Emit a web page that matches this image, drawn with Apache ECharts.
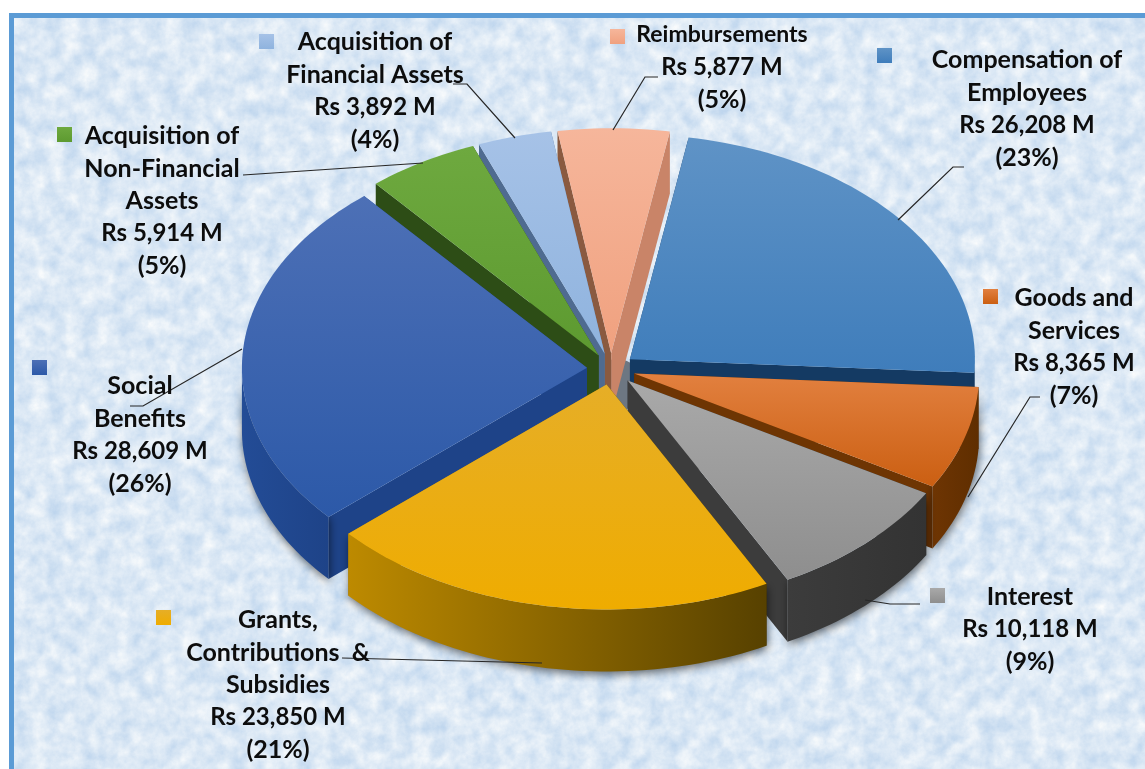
<!DOCTYPE html>
<html>
<head>
<meta charset="utf-8">
<style>
  html, body { margin: 0; padding: 0; background: #fff; }
  #panel {
    position: absolute; left: 9px; top: 13px; width: 1136px; height: 756px;
    box-sizing: border-box; border-top: 5px solid #5b9bd5; border-left: 5px solid #5b9bd5;
    background-color: #dbe9f7;
    background-image: url("data:image/svg+xml,%3Csvg xmlns='http://www.w3.org/2000/svg' width='1145' height='769'%3E%3Cfilter id='n' color-interpolation-filters='sRGB'%3E%3CfeTurbulence type='fractalNoise' baseFrequency='0.06' numOctaves='6' seed='4'/%3E%3CfeColorMatrix values='0.28 0 0 0 0.72 0.18 0 0 0 0.82 0.07 0 0 0 0.925 0 0 0 0 1'/%3E%3C/filter%3E%3Crect width='100%25' height='100%25' filter='url(%23n)'/%3E%3C/svg%3E");
  }
  #chart { position: absolute; left: 0; top: 0; width: 1145px; height: 769px; }
</style>
</head>
<body>
<div id="panel"></div>
<div id="chart"></div>
<script src="https://cdn.jsdelivr.net/npm/echarts@6/dist/echarts.min.js"></script>
<script>
const categories = ['Compensation of\nEmployees', 'Goods and\nServices', 'Interest',
  'Grants,\nContributions  &\nSubsidies', 'Social\nBenefits', 'Acquisition of\nNon-Financial\nAssets',
  'Acquisition of\nFinancial Assets', 'Reimbursements']
const values = [26208, 8365, 10118, 23850, 28609, 5914, 3892, 5877]
const percents = [23, 7, 9, 21, 26, 5, 4, 5]

// colours: top of slice (light, dark), side wall (light, dark)
const topLight = ['#5f93c6', '#e2803f', '#a9a9a9', '#e6ae27', '#4d70b6', '#6ea93f', '#a6c2e7', '#f6b69b']
const topDark = ['#3f7dbb', '#cb5f12', '#8e8e8e', '#efac00', '#2c59a8', '#5d9a30', '#8fb3de', '#f0a17f']
const wallLight = ['#143a63', '#6e3503', '#3c3c3c', '#bd8a00', '#234c96', '#2d4d16', '#5d7ba3', '#c98468']
const wallDark = ['#143a63', '#5f2e00', '#333333', '#574100', '#1e4388', '#2d4d16', '#4f6b90', '#8a5a40']

// pie geometry, screen pixels
const cx = 611
const cy = 369
const rx = 345
const ry = 225
const depth = 62
const explode = 0.07
const startAngle = 9.8
// back slices first so the front ones overlap their walls
const paintOrder = [7, 6, 5, 0, 4, 1, 2, 3]

// label layout: text centre x, first line y, marker x/y, leader line
const labelX = [1027, 1074, 1030, 278, 140, 162, 375, 722]
const labelY = [60, 298, 597, 620, 386, 136, 42, 35]
const markerX = [877, 983, 930, 156, 32, 57, 259, 610]
const markerY = [48, 289, 588, 610, 360, 127, 34, 29]
const leaders = [
  [[964, 167], [953, 167], [898, 220]],
  [[1040, 397], [1030, 397], [968, 497]],
  [[920, 604], [890, 604], [865, 600]],
  [[342, 658], [542, 663]],
  [[130, 406], [143, 406], [242, 349]],
  [[243, 175], [423, 163]],
  [[453, 84], [467, 84], [515, 138]],
  [[658, 77], [645, 77], [613, 130]]
]

const total = values.reduce((a, b) => a + b, 0)
const slices = []
let acc = startAngle
values.forEach(function (v) {
  const span = v / total * 360
  slices.push({ a0: acc, a1: acc + span })
  acc += span
})

function rad(a) { return a * Math.PI / 180 }
function vGrad(c0, c1) {
  return new echarts.graphic.LinearGradient(0, 0, 0, 1, [{ offset: 0, color: c0 }, { offset: 1, color: c1 }])
}
function hGrad(c0, c1) {
  return new echarts.graphic.LinearGradient(0, 0, 1, 0, [{ offset: 0, color: c0 }, { offset: 1, color: c1 }])
}
// how far an edge is from pointing straight at the viewer
function backness(a) { return Math.abs((a % 360) - 180) }

function renderSlice(params, api) {
  const i = api.value(0)
  const a0 = slices[i].a0
  const a1 = slices[i].a1
  const mid = rad((a0 + a1) / 2)
  const ox = cx + explode * rx * Math.sin(mid)
  const oy = cy - explode * ry * Math.cos(mid)
  function pt(a, dy) {
    return [ox + rx * Math.sin(rad(a)), oy - ry * Math.cos(rad(a)) + (dy || 0)]
  }
  const arc = []
  for (let a = a0; a < a1; a += 1.5) arc.push(pt(a))
  arc.push(pt(a1))
  const children = []
  // fills the small hole the exploded tips leave in the middle
  if (params.dataIndex === 0) {
    children.push({
      type: 'circle',
      shape: { cx: cx + 6, cy: cy + 16, r: 26 },
      style: { fill: '#6d7782' }
    })
  }
  // radial walls, the one nearer the viewer goes on top
  const edges = backness(a0) > backness(a1) ? [a0, a1] : [a1, a0]
  edges.forEach(function (a) {
    children.push({
      type: 'polygon',
      shape: { points: [[ox, oy], pt(a), pt(a, depth), [ox, oy + depth]] },
      style: { fill: a === a0 ? wallDark[i] : wallLight[i] }
    })
  })
  // outer rim, only the part that faces the viewer
  const from = Math.max(a0, 90)
  const to = Math.min(a1, 270)
  if (to > from) {
    const rimTop = []
    const rimBottom = []
    for (let a = from; a < to; a += 1.5) {
      rimTop.push(pt(a))
      rimBottom.unshift(pt(a, depth))
    }
    rimTop.push(pt(to))
    rimBottom.unshift(pt(to, depth))
    children.push({
      type: 'polygon',
      shape: { points: rimTop.concat(rimBottom) },
      style: {
        fill: hGrad(wallLight[i], wallDark[i]),
        shadowBlur: 9,
        shadowColor: 'rgba(0,0,0,0.55)',
        shadowOffsetX: 1,
        shadowOffsetY: 3
      }
    })
  }
  children.push({
    type: 'polygon',
    shape: { points: [[ox, oy]].concat(arc) },
    style: { fill: vGrad(topLight[i], topDark[i]) }
  })
  return { type: 'group', children: children }
}

function renderLabel(params, api) {
  const i = api.value(0)
  const lines = categories[i].split('\n')
  lines.push('Rs ' + values[i].toLocaleString('en-US') + ' M')
  lines.push('(' + percents[i] + '%)')
  const children = [{
    type: 'rect',
    shape: { x: markerX[i], y: markerY[i], width: 15, height: 15 },
    style: { fill: vGrad(topLight[i], topDark[i]) }
  }, {
    type: 'polyline',
    shape: { points: leaders[i] },
    style: { stroke: '#262626', lineWidth: 1.2, fill: null }
  }]
  lines.forEach(function (text, k) {
    let size = 25
    if (text === 'Reimbursements') size = 23
    if (text.indexOf('Rs ') === 0) size = 24
    children.push({
      type: 'text',
      x: labelX[i],
      y: labelY[i] + k * 32.5,
      style: {
        text: text,
        fontFamily: 'Lato',
        fontWeight: 'bold',
        fontSize: size,
        fill: '#0d0d0d',
        align: 'center',
        verticalAlign: 'middle'
      }
    })
  })
  return { type: 'group', children: children }
}

const chart = echarts.init(document.getElementById('chart'))
chart.setOption({
  animation: false,
  series: [{
    type: 'custom',
    coordinateSystem: 'none',
    silent: true,
    data: paintOrder.map(i => [i]),
    renderItem: renderSlice
  }, {
    type: 'custom',
    coordinateSystem: 'none',
    silent: true,
    z: 5,
    data: categories.map((c, i) => [i]),
    renderItem: renderLabel
  }]
})
</script>
</body>
</html>
